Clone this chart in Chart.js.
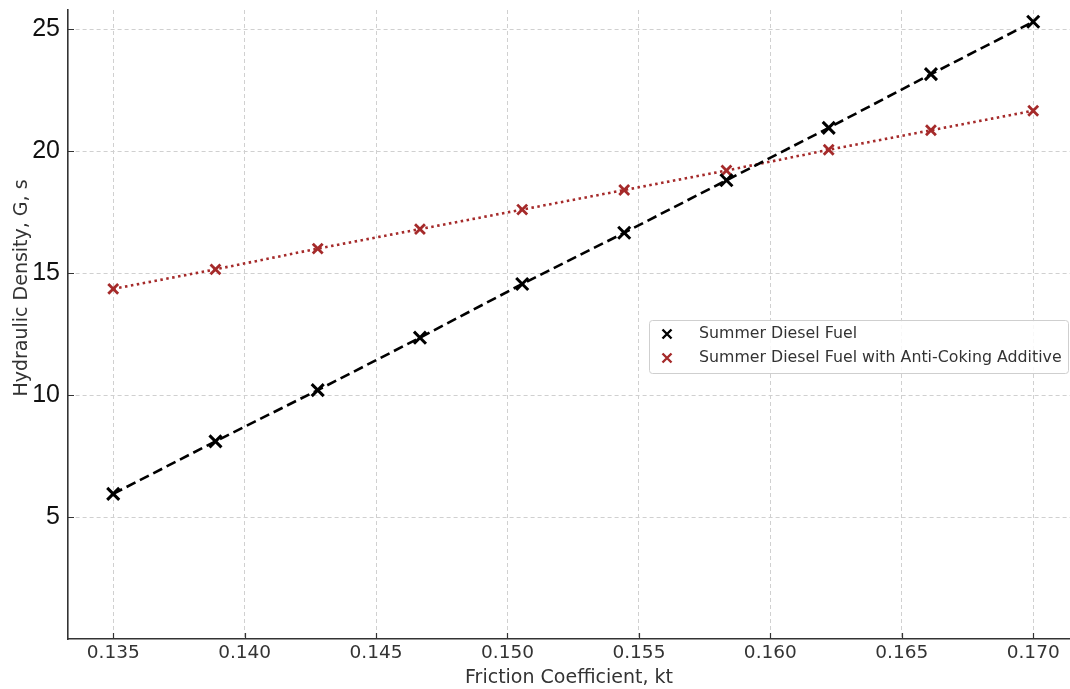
<!DOCTYPE html>
<html>
<head>
<meta charset="utf-8">
<script src="https://cdn.jsdelivr.net/npm/chart.js@4/dist/chart.umd.min.js"></script>
<style>
  html, body { margin: 0; padding: 0; background: #fff; overflow: hidden; }
</style>
</head>
<body>
<canvas id="myChart" width="1070" height="689"></canvas>
<script>
'use strict';

// friction coefficient (x) for each measurement
let frictionCoef = [0.135, 0.13889, 0.14278, 0.14667, 0.15056, 0.15444, 0.15833, 0.16222, 0.16611, 0.170];

// hydraulic density readings
let summerFuel = [5.95, 8.1, 10.2, 12.35, 14.55, 16.65, 18.8, 20.95, 23.15, 25.3];
let additiveFuel = [14.35, 15.15, 16.0, 16.8, 17.6, 18.4, 19.2, 20.05, 20.85, 21.65];

let seriesNames = ['Summer Diesel Fuel', 'Summer Diesel Fuel with Anti-Coking Additive'];

let xTicks = [0.135, 0.140, 0.145, 0.150, 0.155, 0.160, 0.165, 0.170];
let yTicks = [5, 10, 15, 20, 25];

let xTitle = 'Friction Coefficient, kt';
let yTitle = 'Hydraulic Density, G, s';

function toPoints(xs, ys) {
  let pts = [];
  for (let i = 0; i < xs.length; i++) {
    pts.push({ x: xs[i], y: ys[i] });
  }
  return pts;
}

// draws the y title a bit above centre, like the original
const yTitlePlugin = {
  id: 'yTitlePlugin',
  afterDraw(chart) {
    const ctx = chart.ctx;
    ctx.save();
    ctx.translate(22, 288);
    ctx.rotate(-Math.PI / 2);
    ctx.font = '19px "DejaVu Sans"';
    ctx.fillStyle = '#333';
    ctx.textAlign = 'center';
    ctx.textBaseline = 'middle';
    ctx.fillText(yTitle, 0, 0);
    ctx.restore();
  }
};

// little inward tick marks on both axes
const innerTicks = {
  id: 'innerTicks',
  afterDraw(chart) {
    const ctx = chart.ctx;
    const area = chart.chartArea;
    const xs = chart.scales.x, ys = chart.scales.y;
    ctx.save();
    ctx.strokeStyle = '#333';
    ctx.lineWidth = 1.2;
    ctx.beginPath();
    xTicks.forEach(function (v) {
      const px = Math.round(xs.getPixelForValue(v)) + 0.5;
      ctx.moveTo(px, area.bottom);
      ctx.lineTo(px, area.bottom - 6);
    });
    yTicks.forEach(function (v) {
      const py = Math.round(ys.getPixelForValue(v)) + 0.5;
      ctx.moveTo(area.left, py);
      ctx.lineTo(area.left + 6, py);
    });
    ctx.stroke();
    ctx.restore();
  }
};

// legend box sitting on the right, mid height
const boxLegend = {
  id: 'boxLegend',
  afterDraw(chart) {
    const ctx = chart.ctx;
    const x = 649, y = 320, w = 419, h = 53;
    ctx.save();
    ctx.fillStyle = 'rgba(255,255,255,0.85)';
    ctx.strokeStyle = '#cfcfcf';
    ctx.lineWidth = 1;
    ctx.beginPath();
    ctx.roundRect(x + 0.5, y + 0.5, w, h, 3);
    ctx.fill();
    ctx.stroke();

    chart.data.datasets.forEach(function (ds, i) {
      const cy = y + 14 + i * 24;
      const cx = 667;
      ctx.strokeStyle = ds.pointBorderColor;
      ctx.lineWidth = 2.4;
      ctx.beginPath();
      ctx.moveTo(cx - 4.5, cy - 4.5);
      ctx.lineTo(cx + 4.5, cy + 4.5);
      ctx.moveTo(cx + 4.5, cy - 4.5);
      ctx.lineTo(cx - 4.5, cy + 4.5);
      ctx.stroke();
      ctx.fillStyle = '#333';
      ctx.font = '15.8px "DejaVu Sans"';
      ctx.textAlign = 'left';
      ctx.textBaseline = 'middle';
      ctx.fillText(ds.label, 699, cy);
    });
    ctx.restore();
  }
};

const data = {
  datasets: [
    {
      label: seriesNames[0],
      data: toPoints(frictionCoef, summerFuel),
      borderColor: '#000',
      borderWidth: 2.6,
      borderDash: [10, 5],
      pointStyle: 'crossRot',
      pointRadius: 8.5,
      pointBorderWidth: 3,
      pointBorderColor: '#000',
      showLine: true,
      fill: false
    },
    {
      label: seriesNames[1],
      data: toPoints(frictionCoef, additiveFuel),
      borderColor: '#a52a2a',
      borderWidth: 2.6,
      borderDash: [2.5, 3.5],
      pointStyle: 'crossRot',
      pointRadius: 7,
      pointBorderWidth: 2.8,
      pointBorderColor: '#a52a2a',
      showLine: true,
      fill: false
    }
  ]
};

const config = {
  type: 'scatter',
  data: data,
  options: {
    responsive: false,
    animation: false,
    devicePixelRatio: 1,
    layout: { autoPadding: false, padding: { top: 10, left: 0, right: 0, bottom: 0 } },
    plugins: {
      legend: { display: false },
      tooltip: { enabled: false }
    },
    scales: {
      x: {
        type: 'linear',
        min: 0.13328,
        max: 0.1714,
        afterBuildTicks: function (scale) {
          scale.ticks = xTicks.map(function (v) { return { value: v }; });
        },
        afterFit: function (scale) {
          scale.height = 50;
          scale.paddingLeft = 0;
          scale.paddingRight = 0;
        },
        ticks: {
          padding: 3,
          color: '#333',
          font: { family: 'DejaVu Sans', size: 18.5 },
          callback: function (v) { return v.toFixed(3); }
        },
        grid: { color: '#d0d0d0', lineWidth: 1, drawTicks: false },
        border: { display: true, color: '#333', width: 1.6, dash: [4, 3] },
        title: {
          display: true,
          text: xTitle,
          color: '#333',
          font: { family: 'DejaVu Sans', size: 19 },
          padding: { top: 0, bottom: 0 }
        }
      },
      y: {
        type: 'linear',
        min: 0,
        max: 25.78,
        afterBuildTicks: function (scale) {
          scale.ticks = yTicks.map(function (v) { return { value: v }; });
        },
        afterFit: function (scale) {
          scale.width = 68;
          scale.paddingTop = 0;
          scale.paddingBottom = 0;
        },
        ticks: {
          padding: 8,
          color: '#111',
          font: { family: 'Liberation Sans', size: 25 }
        },
        grid: { color: '#d0d0d0', lineWidth: 1, drawTicks: false },
        border: { display: true, color: '#333', width: 1.6, dash: [4, 3] }
      }
    }
  },
  plugins: [yTitlePlugin, innerTicks, boxLegend]
};

const myChart = new Chart(
  document.getElementById('myChart'),
  config
);
</script>
</body>
</html>
